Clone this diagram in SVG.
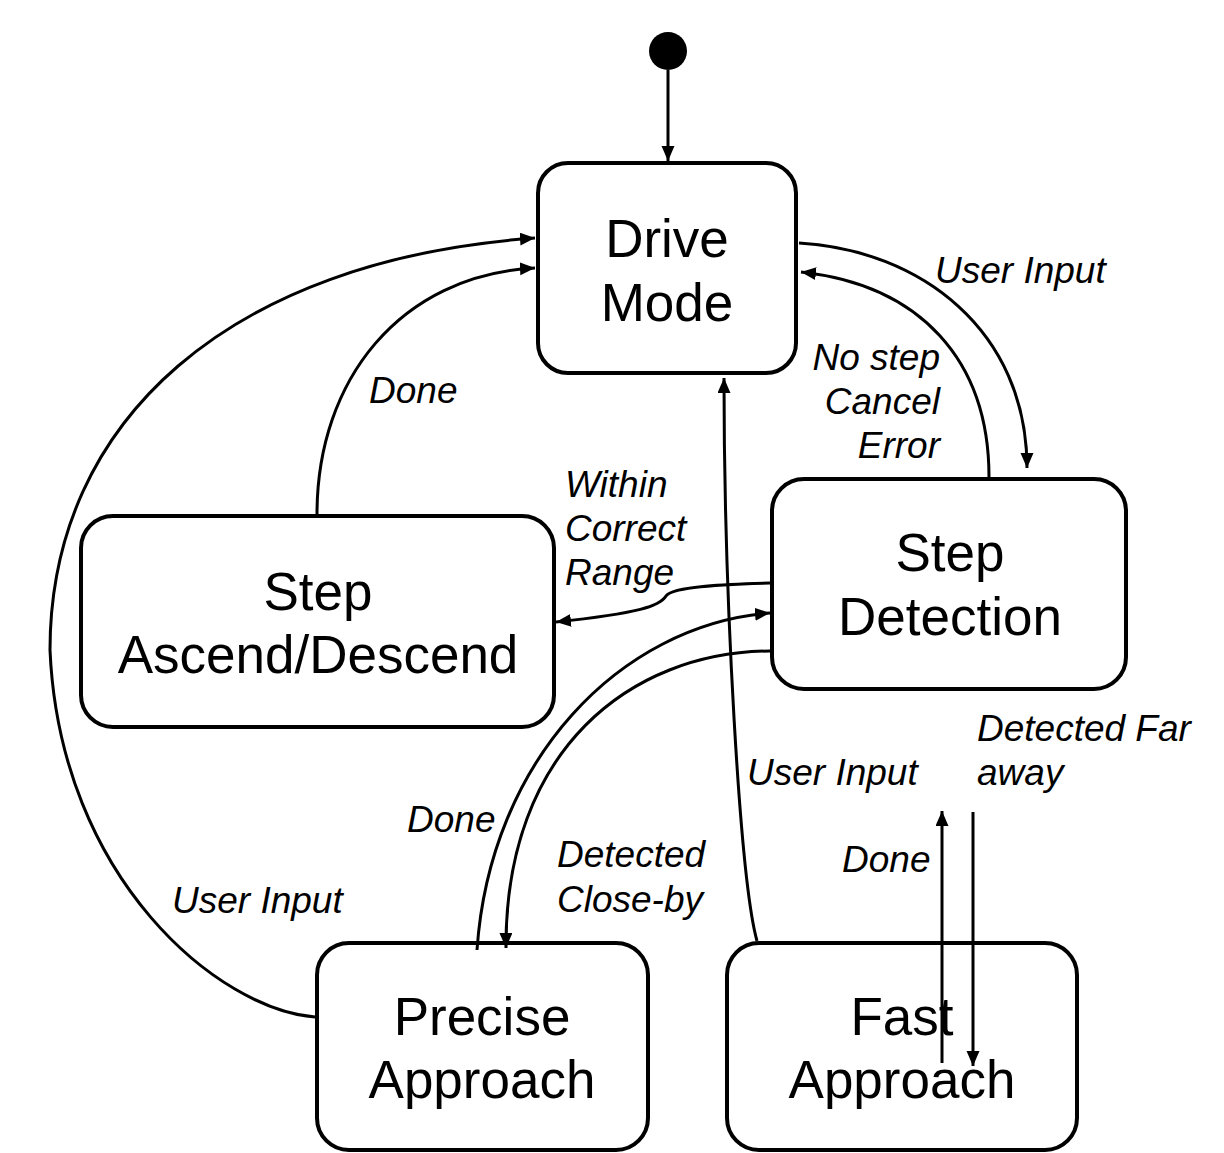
<svg xmlns="http://www.w3.org/2000/svg" width="1224" height="1153" viewBox="0 0 1224 1153">
<style>
.node{fill:#fff;stroke:#000;stroke-width:4}
.nt{font-family:"Liberation Sans",Arial,sans-serif;font-size:53px;fill:#000;text-anchor:middle}
.lb{font-family:"Liberation Sans",Arial,sans-serif;font-size:37px;font-style:italic;fill:#000}
.e{fill:none;stroke:#000;stroke-width:3}
.a{marker-end:url(#ah)}
</style>
<defs>
<marker id="ah" markerUnits="userSpaceOnUse" markerWidth="16" markerHeight="14" refX="15" refY="6.5" orient="auto">
<path d="M0,0 L15,6.5 L0,13 z" fill="#000"/>
</marker>
</defs>
<rect width="1224" height="1153" fill="#fff"/>
<g id="initial"><circle cx="668" cy="51" r="19" fill="#000"/></g>
<g id="drive-mode">
<rect class="node" x="538" y="163" width="258" height="210" rx="30"/>
<text class="nt" x="667" y="257">Drive</text>
<text class="nt" x="667" y="321">Mode</text>
</g>
<g id="step-detection">
<rect class="node" x="772" y="479" width="354" height="210" rx="32"/>
<text class="nt" x="950" y="571">Step</text>
<text class="nt" x="950" y="635">Detection</text>
</g>
<g id="step-ascend-descend">
<rect class="node" x="81" y="516" width="473" height="211" rx="32"/>
<text class="nt" x="318" y="610">Step</text>
<text class="nt" x="318" y="673">Ascend/Descend</text>
</g>
<g id="precise-approach">
<rect class="node" x="317" y="943" width="331" height="207" rx="32"/>
<text class="nt" x="482" y="1035">Precise</text>
<text class="nt" x="482" y="1098">Approach</text>
</g>
<g id="fast-approach">
<rect class="node" x="727" y="943" width="350" height="207" rx="32"/>
<text class="nt" x="902" y="1035">Fast</text>
<text class="nt" x="902" y="1098">Approach</text>
</g>
<g id="connectors">
<path class="e a" d="M668 70 L668 161"/>
<path class="e a" d="M799 243 C920 250 1027 330 1027 468"/>
<path class="e a" d="M989 477 C989 360 920 285 801 272"/>
<path class="e a" d="M317 514 C317 380 400 275 535 268"/>
<path class="e a" d="M315 1017 C220 1010 60 880 50 650 C50 420 230 260 535 238"/>
<path class="e a" d="M770 583 C730 584 672 586 666 596 C660 606 640 613 556 622"/>
<path class="e a" d="M477 950 C490 760 620 625 770 613"/>
<path class="e a" d="M770 651 C630 652 505 750 506 948"/>
<path class="e a" d="M757 941 C740 880 724 600 724 378"/>
<path class="e a" d="M942 1063 L942 811"/>
<path class="e a" d="M973 812 L973 1066"/>
</g>
<g id="labels">
<text class="lb" x="935" y="283">User Input</text>
<text class="lb" x="940" y="370" text-anchor="end">No step</text>
<text class="lb" x="940" y="414" text-anchor="end">Cancel</text>
<text class="lb" x="940" y="458" text-anchor="end">Error</text>
<text class="lb" x="369" y="403">Done</text>
<text class="lb" x="565" y="497">Within</text>
<text class="lb" x="565" y="541">Correct</text>
<text class="lb" x="565" y="585">Range</text>
<text class="lb" x="977" y="741">Detected Far</text>
<text class="lb" x="977" y="785">away</text>
<text class="lb" x="747" y="785">User Input</text>
<text class="lb" x="407" y="832">Done</text>
<text class="lb" x="557" y="867">Detected</text>
<text class="lb" x="557" y="912">Close-by</text>
<text class="lb" x="842" y="872">Done</text>
<text class="lb" x="172" y="913">User Input</text>
</g>
</svg>
